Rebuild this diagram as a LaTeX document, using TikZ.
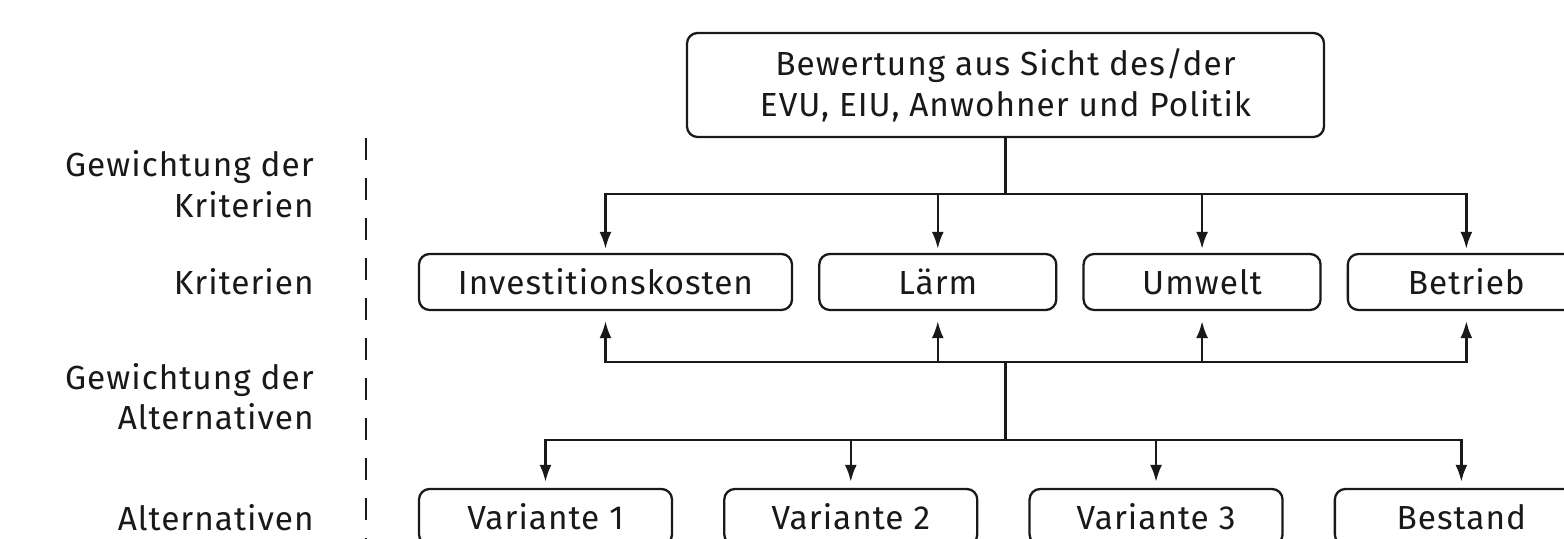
\documentclass[tikz,border=0pt]{standalone}
\usepackage{fontspec}
\setmainfont{Fira Sans}[LetterSpace=3]
\usepackage{tikz}
\usetikzlibrary{arrows.meta, positioning, calc}
\definecolor{inkblack}{RGB}{25,25,25}
\tikzset{
  topbox/.style={rectangle, draw=inkblack, rounded corners=6pt, line width=1.3pt,
                 minimum width=12.74cm, minimum height=2.08cm, align=center,
                 text=inkblack, font=\fontsize{19}{23.5}\selectfont},
  kritbox/.style={rectangle, draw=inkblack, rounded corners=6pt, line width=1.3pt,
                 minimum width=4.74cm, minimum height=1.12cm, inner sep=0pt,
                 align=center, text=inkblack, font=\fontsize{19}{23.5}\selectfont},
  altbox/.style={kritbox, minimum width=5.06cm},
  sidelabel/.style={anchor=east, align=right, inner sep=0pt, text=inkblack,
                 font=\fontsize{19}{23}\selectfont},
  arrow/.style={-{Latex[length=3.4mm, width=2.4mm]}, line width=1.4pt, color=inkblack},
  line/.style={line width=1.4pt, color=inkblack},
  sepline/.style={line width=1.3pt, color=inkblack, dash pattern=on 0.44cm off 0.36cm}
}
\begin{document}
\begin{tikzpicture}
  \useasboundingbox (0,0) rectangle (31.28,-10.78);

  %% -- Bewertung -------------------------------------------------------
  \node[topbox] (bewertung) at (20.11,-1.70)
        {Bewertung aus Sicht des/der\\EVU, EIU, Anwohner und Politik};

  %% -- Kriterien -------------------------------------------------------
  \node[kritbox, minimum width=7.46cm] (invest) at (12.11,-5.64) {Investitionskosten};
  \node[kritbox, right=0.5cm of invest] (laerm) {Lärm};
  \node[kritbox, right=0.5cm of laerm] (umwelt) {Umwelt};
  \node[kritbox, right=0.5cm of umwelt] (betrieb) {Betrieb};

  %% -- Alternativen ----------------------------------------------------
  \node[altbox] (var1) at (10.91,-10.34) {Variante 1};
  \node[altbox, right=1cm of var1] (var2) {Variante 2};
  \node[altbox, right=1cm of var2] (var3) {Variante 3};
  \node[altbox, right=1cm of var3] (bestand) {Bestand};

  %% -- Ebenen links ----------------------------------------------------
  \node[sidelabel] (gewkrit) at (6.28,-3.68) {Gewichtung der\\Kriterien};
  \node[sidelabel] (krit) at (6.28,-5.64) {Kriterien};
  \node[sidelabel] (gewalt) at (6.28,-7.93) {Gewichtung der\\Alternativen};
  \node[sidelabel] (alt) at (6.28,-10.36) {Alternativen};

  \coordinate (septop) at (7.32,-2.76);
  \coordinate (sepbot) at (7.32,-10.78);
  \draw[sepline] (septop) -- (sepbot);

  %% -- Verbindungen ----------------------------------------------------
  \coordinate (bus1) at ($(bewertung.south)+(0,-1.12)$);
  \coordinate (bus2) at (bewertung.south |- 0,-7.24);
  \coordinate (bus3) at (bewertung.south |- 0,-8.80);

  \draw[line] (bewertung) -- (bus1);
  \foreach \k in {invest,laerm,umwelt,betrieb}
    \draw[arrow, shorten >=0.08cm] (bus1) -| (\k);

  \foreach \k in {invest,laerm,umwelt,betrieb}
    \draw[arrow, shorten >=0.2cm] (bus2) -| (\k);
  \draw[line] (bus2) -- (bus3);
  \foreach \v in {var1,var2,var3,bestand}
    \draw[arrow, shorten >=0.12cm] (bus3) -| (\v);

\end{tikzpicture}
\end{document}
